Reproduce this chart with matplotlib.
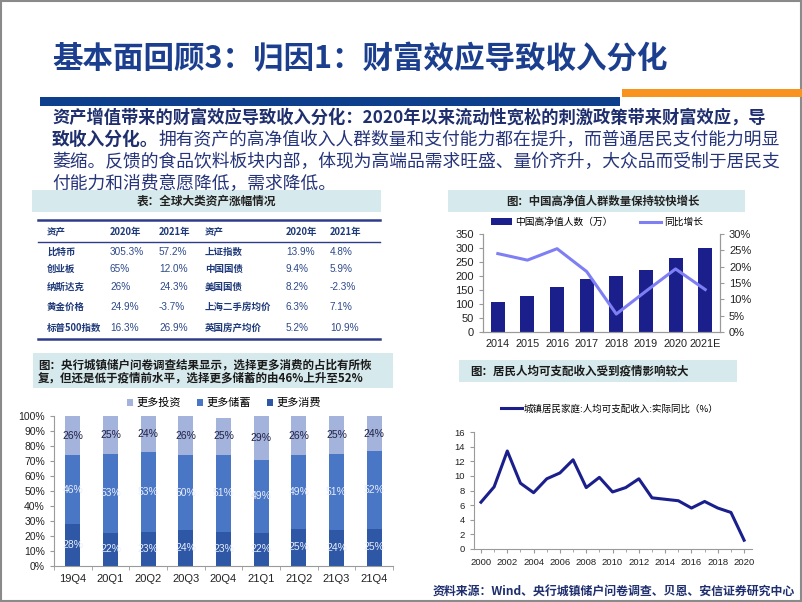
import matplotlib
matplotlib.use('Agg')
import matplotlib.pyplot as plt
from matplotlib.patches import Rectangle, Patch
from matplotlib.lines import Line2D
import numpy as np

plt.rcParams['font.family'] = ['Noto Sans CJK SC', 'DejaVu Sans']
plt.rcParams['axes.unicode_minus'] = False

# ---------------- data ----------------
title = "基本面回顾3：归因1：财富效应导致收入分化"
para_line1 = "资产增值带来的财富效应导致收入分化：2020年以来流动性宽松的刺激政策带来财富效应，导"
para_line2_bold = "致收入分化。"
para_line2 = "拥有资产的高净值收入人群数量和支付能力都在提升，而普通居民支付能力明显"
para_line3 = "萎缩。反馈的食品饮料板块内部，体现为高端品需求旺盛、量价齐升，大众品而受制于居民支"
para_line4 = "付能力和消费意愿降低，需求降低。"

table_title = "表：全球大类资产涨幅情况"
table_header = ["资产", "2020年", "2021年", "资产", "2020年", "2021年"]
assets_left = ["比特币", "创业板", "纳斯达克", "黄金价格", "标普500指数"]
left_2020 = ["305.3%", "65%", "26%", "24.9%", "16.3%"]
left_2021 = ["57.2%", "12.0%", "24.3%", "-3.7%", "26.9%"]
assets_right = ["上证指数", "中国国债", "美国国债", "上海二手房均价", "英国房产均价"]
right_2020 = ["13.9%", "9.4%", "8.2%", "6.3%", "5.2%"]
right_2021 = ["4.8%", "5.9%", "-2.3%", "7.1%", "10.9%"]

hnw_title = "图：中国高净值人群数量保持较快增长"
hnw_years = ["2014", "2015", "2016", "2017", "2018", "2019", "2020", "2021E"]
hnw_count = [107, 130, 160, 190, 200, 222, 265, 300]
hnw_growth = [24.0, 22.0, 25.5, 18.5, 5.5, 12.5, 19.3, 13.0]
hnw_labels = ["中国高净值人数（万）", "同比增长"]

survey_title1 = "图：央行城镇储户问卷调查结果显示，选择更多消费的占比有所恢"
survey_title2 = "复，但还是低于疫情前水平，选择更多储蓄的由46%上升至52%"
quarters = ["19Q4", "20Q1", "20Q2", "20Q3", "20Q4", "21Q1", "21Q2", "21Q3", "21Q4"]
more_consume = [28, 22, 23, 24, 23, 22, 25, 24, 25]
more_save = [46, 53, 53, 50, 51, 49, 49, 51, 52]
more_invest = [26, 25, 24, 26, 25, 29, 26, 25, 24]
survey_labels = ["更多投资", "更多储蓄", "更多消费"]

income_title = "图：居民人均可支配收入受到疫情影响较大"
income_years = list(range(2000, 2021))
income_growth = [6.4, 8.5, 13.4, 9.0, 7.7, 9.6, 10.4, 12.2, 8.4, 9.8, 7.8, 8.4,
                 9.6, 7.0, 6.8, 6.6, 5.6, 6.5, 5.6, 5.0, 1.2]
income_label = "城镇居民家庭:人均可支配收入:实际同比（%）"

source = "资料来源：Wind、央行城镇储户问卷调查、贝恩、安信证券研究中心"

# ---------------- layout helpers ----------------
W, H = 802, 602
fig = plt.figure(figsize=(W / 100, H / 100), dpi=100)
fig.patch.set_facecolor('white')

def fx(x):
    return x / W

def fy(y):
    return 1 - y / H

def ax_at(x0, y0, x1, y1):
    return fig.add_axes([fx(x0), fy(y1), (x1 - x0) / W, (y1 - y0) / H])

def rect(x0, y0, x1, y1, color, **kw):
    fig.add_artist(Rectangle((fx(x0), fy(y1)), (x1 - x0) / W, (y1 - y0) / H,
                             transform=fig.transFigure, facecolor=color,
                             edgecolor='none', **kw))

def hline(x0, x1, y, color, lw):
    fig.add_artist(Line2D([fx(x0), fx(x1)], [fy(y), fy(y)], transform=fig.transFigure,
                          color=color, lw=lw))

NUM = ['Liberation Sans', 'Noto Sans CJK SC']
NAVY = '#1B3F8E'
TXT = '#1F2F6E'
BOX = '#D6E9EC'
SPINE = '#9A9A9A'

# border
fig.add_artist(Rectangle((0.001, 0.001), 0.998, 0.997, transform=fig.transFigure,
                         facecolor='none', edgecolor='#8A8A8A', lw=1.5))

# ---------------- title & bars ----------------
fig.text(fx(52), fy(59), title, fontsize=22, fontweight='bold', color=NAVY,
         ha='left', va='center')
rect(40, 97, 620, 106, '#0E3F8C')
rect(622, 89, 802, 97, '#F7931E')

# ---------------- paragraph ----------------
fs_p = 12.8
fig.text(fx(52), fy(118), para_line1, fontsize=12.45, fontweight='bold', color=TXT,
         ha='left', va='center')
t2 = fig.text(fx(52), fy(140), para_line2_bold, fontsize=fs_p, fontweight='bold',
              color=TXT, ha='left', va='center')
renderer = fig.canvas.get_renderer()
bb = t2.get_window_extent(renderer)
fig.text(bb.x1 / W, fy(140), para_line2, fontsize=fs_p, color='#26357A',
         ha='left', va='center')
fig.text(fx(52), fy(162), para_line3, fontsize=fs_p, color='#26357A', ha='left', va='center')
fig.text(fx(52), fy(184), para_line4, fontsize=fs_p, color='#26357A', ha='left', va='center')

# ---------------- table ----------------
rect(32, 190, 381, 212, BOX)
fig.text(fx(206), fy(201.5), table_title, fontsize=8.4, fontweight='bold',
         color='#222222', ha='center', va='center')
TBL = '#2E3D8A'
hline(38, 380, 220, TBL, 1.8)
hline(38, 380, 242, TBL, 1.0)
hline(38, 380, 339, TBL, 1.8)
col_x = [47, 110, 159, 205, 286, 330]
for cx, h in zip(col_x, table_header):
    fig.text(fx(cx), fy(232), h, fontsize=6.8, fontweight='bold', color='#1F3A7A',
             ha='left', va='center')
row_y = [252, 269, 287, 307, 328]
fs_lab, fs_num = 6.8, 7.2
for i, ry in enumerate(row_y):
    fig.text(fx(col_x[0]), fy(ry), assets_left[i], fontsize=fs_lab, fontweight='bold',
             color='#1F3A7A', ha='left', va='center')
    fig.text(fx(col_x[1]), fy(ry), left_2020[i], fontsize=fs_num, family=NUM,
             color='#2E4A8A', ha='left', va='center')
    fig.text(fx(col_x[2]), fy(ry), left_2021[i], fontsize=fs_num, family=NUM,
             color='#2E4A8A', ha='left', va='center')
    fig.text(fx(col_x[3]), fy(ry), assets_right[i], fontsize=fs_lab, fontweight='bold',
             color='#1F3A7A', ha='left', va='center')
    fig.text(fx(col_x[4]), fy(ry), right_2020[i], fontsize=fs_num, family=NUM,
             color='#2E4A8A', ha='left', va='center')
    fig.text(fx(col_x[5]), fy(ry), right_2021[i], fontsize=fs_num, family=NUM,
             color='#2E4A8A', ha='left', va='center')

# ---------------- top-right chart ----------------
rect(448, 190, 745, 212, BOX)
fig.text(fx(603), fy(201.5), hnw_title, fontsize=8.2, fontweight='bold',
         color='#222222', ha='center', va='center')

ax1 = ax_at(483, 234, 720, 332)
xh = np.arange(len(hnw_years))
bars = ax1.bar(xh, hnw_count, width=0.47, color='#1A1F8C')
ax1.set_xlim(-0.5, len(hnw_years) - 0.5)
ax1.set_ylim(0, 350)
ax1.set_yticks(np.arange(0, 351, 50))
ax1.set_xticks(xh)
ax1.set_xticklabels(hnw_years)
ax2 = ax1.twinx()
ln, = ax2.plot(xh, hnw_growth, color='#7F7FF5', lw=2.2)
ax2.set_ylim(0, 30)
ax2.set_yticks(np.arange(0, 31, 5))
ax2.set_yticklabels([f"{v}%" for v in range(0, 31, 5)])
for a in (ax1, ax2):
    for s in a.spines.values():
        s.set_color(SPINE)
        s.set_linewidth(0.8)
    a.spines['top'].set_visible(False)
    a.tick_params(colors='#222222', labelsize=8, length=3, width=0.8)
    a.tick_params(axis='both', color=SPINE)
    for lab in a.get_xticklabels() + a.get_yticklabels():
        lab.set_family(NUM)
ax1.tick_params(axis='x', length=0, pad=5, labelsize=7.8)
fig.legend([Patch(facecolor='#1A1F8C'), Line2D([], [], color='#7F7FF5', lw=2.2)],
           hnw_labels, loc='center', bbox_to_anchor=(fx(597), fy(222)), ncol=2,
           frameon=False, fontsize=7, handlelength=2.2, handleheight=0.7,
           columnspacing=2.8, handletextpad=0.3, borderpad=0)

# ---------------- bottom-left chart ----------------
rect(33, 353, 393, 388, BOX)
fig.text(fx(38), fy(365), survey_title1, fontsize=8.3, fontweight='bold',
         color='#1A1A1A', ha='left', va='center')
fig.text(fx(38), fy(378.5), survey_title2, fontsize=8.3, fontweight='bold',
         color='#1A1A1A', ha='left', va='center')

ax3 = ax_at(54, 416, 393, 566)
xq = np.arange(len(quarters))
c_cons, c_save, c_inv = '#2E58A6', '#4A76C6', '#A4B3DC'
bw = 0.4
cons = np.array(more_consume)
sav = np.array(more_save)
inv = np.array(more_invest)
b_inv = ax3.bar(xq, inv, width=bw, bottom=cons + sav, color=c_inv)
b_sav = ax3.bar(xq, sav, width=bw, bottom=cons, color=c_save)
b_con = ax3.bar(xq, cons, width=bw, color=c_cons)
for i in range(len(quarters)):
    ax3.text(xq[i], cons[i] / 2, f"{cons[i]}%", ha='center', va='center', fontsize=7.5,
             color='#E8EEFA', family=NUM)
    ax3.text(xq[i], cons[i] + sav[i] / 2, f"{sav[i]}%", ha='center', va='center',
             fontsize=7.5, color='#E8EEFA', family=NUM)
    ax3.text(xq[i], min(cons[i] + sav[i] + inv[i] / 2, 100 - inv[i] / 2), f"{inv[i]}%",
             ha='center', va='center', fontsize=7.5, color='#222244', family=NUM)
ax3.set_xlim(-0.5, len(quarters) - 0.5)
ax3.set_ylim(0, 100)
ax3.set_yticks(np.arange(0, 101, 10))
ax3.set_yticklabels([f"{v}%" for v in range(0, 101, 10)])
ax3.set_xticks(xq)
ax3.set_xticklabels(quarters)
ax3.set_xticks(np.arange(-0.5, len(quarters), 1), minor=True)
for s in ('top', 'right'):
    ax3.spines[s].set_visible(False)
for s in ('left', 'bottom'):
    ax3.spines[s].set_color(SPINE)
    ax3.spines[s].set_linewidth(0.8)
ax3.tick_params(axis='x', which='major', length=0, pad=6, labelsize=8, colors='#222222')
ax3.tick_params(axis='x', which='minor', length=3, color=SPINE)
ax3.tick_params(axis='y', length=3, color=SPINE, labelsize=7.5, labelcolor='#222222')
for lab in ax3.get_xticklabels() + ax3.get_yticklabels():
    lab.set_family(NUM)
fig.legend([Patch(facecolor=c_inv), Patch(facecolor=c_save), Patch(facecolor=c_cons)],
           survey_labels, loc='center', bbox_to_anchor=(fx(224), fy(403)), ncol=3,
           frameon=False, fontsize=8, handlelength=0.6, handleheight=0.6,
           columnspacing=1.4, handletextpad=0.3, borderpad=0)

# ---------------- bottom-right chart ----------------
rect(459, 360, 737, 382, BOX)
fig.text(fx(470), fy(371), income_title, fontsize=8.3, fontweight='bold',
         color='#1A1A1A', ha='left', va='center')

ax4 = ax_at(474, 432, 752, 549)
ax4.plot(income_years, income_growth, color='#1A1F8C', lw=2.2)
ax4.set_xlim(1999.47, 2020.6)
ax4.set_ylim(0, 16)
ax4.set_yticks(np.arange(0, 17, 2))
ax4.set_xticks(np.arange(2000, 2021, 2))
for s in ('top', 'right'):
    ax4.spines[s].set_visible(False)
for s in ('left', 'bottom'):
    ax4.spines[s].set_color(SPINE)
    ax4.spines[s].set_linewidth(0.8)
ax4.tick_params(axis='both', length=3, color=SPINE, labelsize=6.8, labelcolor='#222222')
ax4.set_xticks(np.arange(2000, 2021, 1), minor=True)
ax4.tick_params(axis='x', which='minor', length=2, color=SPINE)
for lab in ax4.get_xticklabels() + ax4.get_yticklabels():
    lab.set_family(NUM)
fig.legend([Line2D([], [], color='#1A1F8C', lw=2.2)], [income_label], loc='center',
           bbox_to_anchor=(fx(610), fy(409)), frameon=False, fontsize=6.8,
           handlelength=2.2, handletextpad=0.2, borderpad=0)

# ---------------- source ----------------
fig.text(fx(795), fy(591), source, fontsize=8.6, fontweight='bold', color='#1F2F6E',
         ha='right', va='center')

fig.savefig('out.png', dpi=100, facecolor='white')
